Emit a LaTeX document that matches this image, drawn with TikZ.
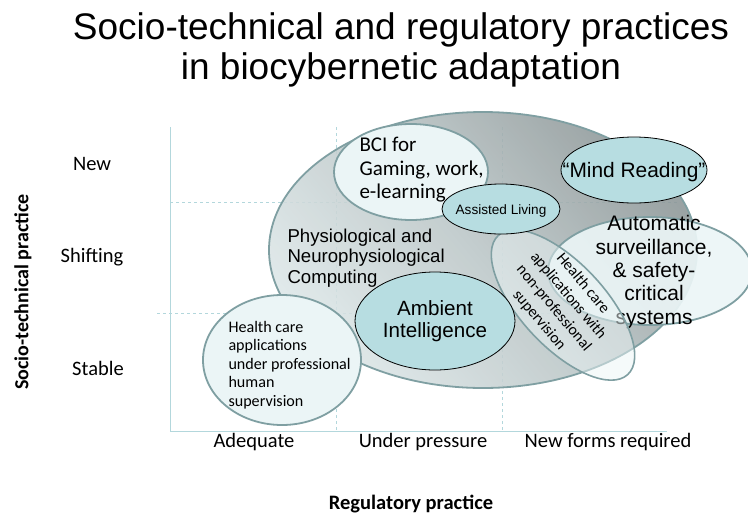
\documentclass[tikz,border=0pt]{standalone}
\usepackage{fontspec}
\setmainfont{Liberation Sans}
\newfontfamily\calibri{Carlito}
\usepackage{xcolor}
\usepackage{tikz}
\usetikzlibrary{shapes.geometric}

\definecolor{axisblue}{HTML}{B3D7DC}
\definecolor{rimgray}{HTML}{7F9FA2}
\definecolor{paleteal}{HTML}{EBF5F6}
\definecolor{midteal}{HTML}{B7DDE1}
\definecolor{biglight}{HTML}{DCE6E7}
\definecolor{bigmid}{HTML}{BAC5C6}
\definecolor{bigdark}{HTML}{8C9697}

\begin{document}
\begin{tikzpicture}[x=1pt,y=-1pt,
    blob/.style={ellipse,inner sep=0pt},
    paleblob/.style={blob,draw=rimgray,line width=1.8pt,fill=paleteal},
    tealblob/.style={blob,draw=black,line width=0.8pt,fill=midteal},
    gridline/.style={axisblue,dashed,line width=0.7pt},
    axisline/.style={axisblue,line width=0.9pt},
    axlab/.style={font=\calibri\fontsize{20.5}{24}\selectfont},
    axtitle/.style={font=\calibri\bfseries\fontsize{20}{24}\selectfont}]
  \useasboundingbox (0,0) rectangle (748,515);
  \clip (0,0) rectangle (748,515);

  % title
  \node[align=center,font=\fontsize{37}{40}\selectfont] (title) at (401,50)
    {Socio-technical and regulatory practices\\in biocybernetic adaptation};

  % axes and grid
  \coordinate (origin) at (170,431);
  \draw[gridline] (170,202) -- (680,202);
  \draw[gridline] (157,313) -- (669,313);
  \draw[gridline] (336,127) -- (336,431);
  \draw[gridline] (502,127) -- (502,431);
  \draw[axisline] (170,127) -- (origin) -- (667,431);

  \node[axlab] (new) at (92,164) {New};
  \node[axlab] (shifting) at (92,257) {Shifting};
  \node[axlab] (stable) at (98,368) {Stable};
  \node[axtitle,rotate=90] (ytitle) at (23,292) {Socio-technical practice};
  \node[axlab] (adequate) at (254,442) {Adequate};
  \node[axlab] (pressure) at (423,442) {Under pressure};
  \node[axlab] (newforms) at (608,442) {New forms required};
  \node[axtitle,font=\calibri\bfseries\fontsize{20.5}{24}\selectfont] (xtitle) at (411,504) {Regulatory practice};

  % big ellipse
  \node[blob,minimum width=428pt,minimum height=276pt,draw=rimgray,line width=1.8pt,
    top color=bigdark,bottom color=biglight,middle color=bigmid,shading angle=-50,
    fill opacity=0.88] (pnc) at (483,250) {};

  % inner ellipses
  \node[paleblob,minimum width=154pt,minimum height=96pt] (bci) at (411,172) {};
  \node[paleblob,minimum width=158pt,minimum height=130pt] (hcpro) at (282,360) {};
  \node[paleblob,minimum width=204pt,minimum height=108pt,fill opacity=0.92] (auto) at (650,271) {};
  \node[align=center,font=\fontsize{21}{23.3}\selectfont] (autotext) at (654,272)
    {Automatic\\surveillance,\\\& safety-\\critical\\systems};
  \node[blob,draw=rimgray,line width=1.6pt,fill=paleteal,fill opacity=0.5,
    minimum width=190pt,minimum height=84pt,rotate=-47] (hcnon) at (563,305) {};
  \node[tealblob,minimum width=118pt,minimum height=50pt] (assist) at (501,209) {};
  \node[tealblob,minimum width=146pt,minimum height=66pt] (mind) at (634,170) {};
  \node[tealblob,minimum width=160pt,minimum height=98pt,align=center,
    font=\fontsize{20.6}{22}\selectfont] (ami) at (435,321) {Ambient\\Intelligence};

  % labels
  \node[anchor=west,align=left,font=\calibri\fontsize{21}{23.5}\selectfont] (bcitext) at (356,170)
    {BCI for\\Gaming, work,\\e-learning};
  \node[anchor=west,align=left,font=\fontsize{18.6}{20.7}\selectfont] (pnctext) at (284,258)
    {Physiological and\\Neurophysiological\\Computing};
  \node[font=\fontsize{13.6}{16}\selectfont] (assisttext) at (501,211) {Assisted Living};
  \node[font=\fontsize{20.9}{24}\selectfont] (mindtext) at (634,172) {``Mind Reading''};
  \node[rotate=-50,align=center,font=\calibri\fontsize{15.7}{19}\selectfont] (hcnontext) at (561,302)
    {Health care\\applications with\\non-professional\\supervision};
  \node[anchor=west,align=left,font=\calibri\fontsize{16.1}{18.4}\selectfont] (hcprotext) at (225,365)
    {Health care\\applications\\under professional\\human\\supervision};
\end{tikzpicture}
\end{document}
